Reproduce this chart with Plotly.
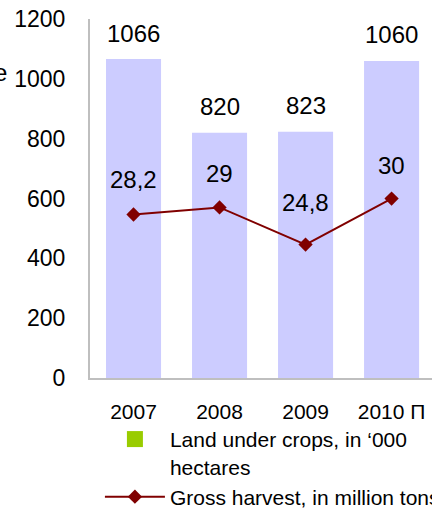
import plotly.graph_objects as go

# ---- data ----
years = ["2007", "2008", "2009", "2010 П"]
land_under_crops = [1066, 820, 823, 1060]          # '000 hectares
gross_harvest = [28.2, 29, 24.8, 30]               # million tons
harvest_labels = ["28,2", "29", "24,8", "30"]
y_ticks = [0, 200, 400, 600, 800, 1000, 1200]

land_name = "Land under crops, in ‘000<br>hectares"
harvest_name = "Gross harvest, in million tons"

FONT = "Liberation Sans, Arial, sans-serif"
BAR_COLOR = "#CCCCFF"
LINE_COLOR = "#800000"
AXIS_COLOR = "#BFBFBF"

fig = go.Figure()

fig.add_trace(go.Bar(
    x=years, y=land_under_crops, marker=dict(color=BAR_COLOR, line=dict(width=0)),
    width=0.64, showlegend=False, name=land_name, hoverinfo="x+y",
))
# legend entry (the original legend shows a green square)
fig.add_trace(go.Scatter(
    x=[None], y=[None], mode="markers", name=land_name,
    marker=dict(symbol="square", size=17, color="#99CC00"),
))
fig.add_trace(go.Scatter(
    x=years, y=gross_harvest, yaxis="y2", mode="lines+markers", name=harvest_name,
    line=dict(color=LINE_COLOR, width=2),
    marker=dict(symbol="diamond", size=11, color=LINE_COLOR),
))

annotations = []
for i, v in enumerate(land_under_crops):
    annotations.append(dict(x=i, y=v, xref="x", yref="y", text=str(v), showarrow=False,
                            yshift=26, font=dict(family=FONT, size=24, color="black")))
shifts = [35, 34, 42, 33]
for i, (v, t, s) in enumerate(zip(gross_harvest, harvest_labels, shifts)):
    annotations.append(dict(x=i, y=v, xref="x", yref="y2", text=t, showarrow=False,
                            yshift=s, font=dict(family=FONT, size=24, color="black")))
# clipped fragment of text at left edge
annotations.append(dict(x=-0.237, y=0.85, xref="paper", yref="paper", text="e", showarrow=False,
                        xanchor="right", yanchor="middle",
                        font=dict(family=FONT, size=24, color="black")))

fig.update_layout(
    width=432, height=510,
    margin=dict(l=90, r=0, t=19, b=132, pad=0, autoexpand=False),
    paper_bgcolor="white", plot_bgcolor="white",
    font=dict(family=FONT, size=21, color="black"),
    bargap=0.36,
    xaxis=dict(range=[-0.506, 3.47], showgrid=False, zeroline=False, automargin=False,
               showline=True, linecolor=AXIS_COLOR, linewidth=2, ticks="",
               tickfont=dict(size=21), ticklabelstandoff=14, tickangle=0),
    yaxis=dict(range=[0, 1200], tickvals=y_ticks, showgrid=False, zeroline=False,
               automargin=False, showline=True, linecolor=AXIS_COLOR, linewidth=2,
               ticks="", tickfont=dict(size=23), ticklabelstandoff=18),
    yaxis2=dict(range=[9.73, 50.29], overlaying="y", visible=False),
    legend=dict(x=0.029, y=-0.114, xanchor="left", yanchor="top", orientation="v",
                font=dict(size=21), itemwidth=60, valign="top", tracegroupgap=0,
                bgcolor="rgba(0,0,0,0)"),
    annotations=annotations,
    showlegend=True,
)

fig.write_html("out.html", config={"displayModeBar": False},
               post_script="document.body.style.margin='0px';")
